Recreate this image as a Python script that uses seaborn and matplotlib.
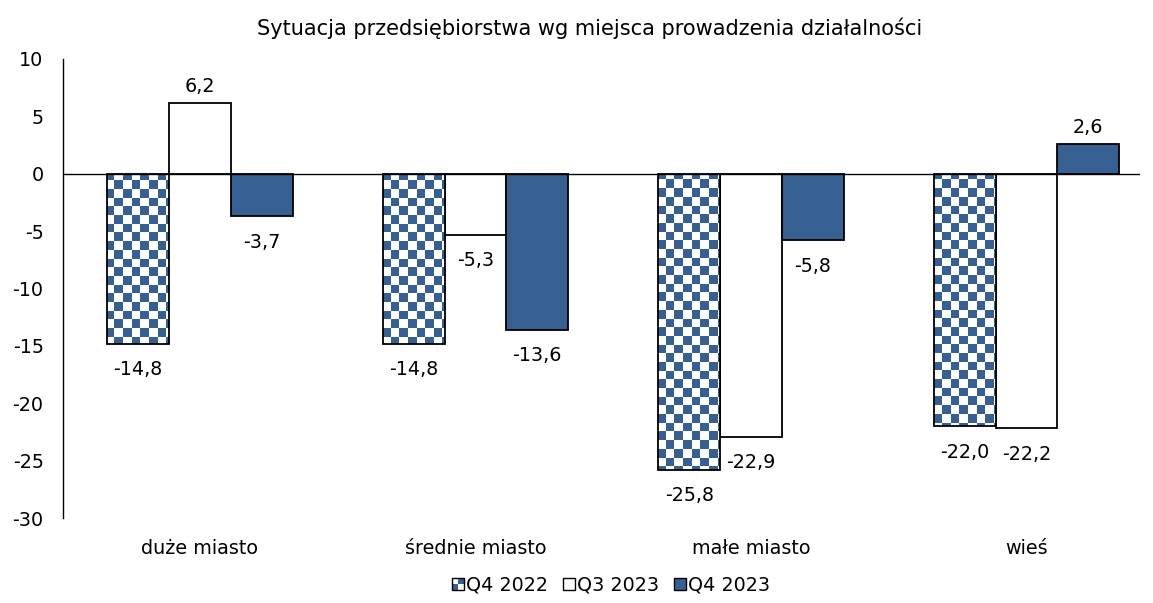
import numpy as np
import pandas as pd
import matplotlib
matplotlib.use("Agg")
import matplotlib.pyplot as plt
import seaborn as sns
from matplotlib.patches import Rectangle
from matplotlib.legend_handler import HandlerBase
from matplotlib.colors import ListedColormap

categories = ["duże miasto", "średnie miasto", "małe miasto", "wieś"]
series = ["Q4 2022", "Q3 2023", "Q4 2023"]
q4_2022 = [-14.8, -14.8, -25.8, -22.0]
q3_2023 = [6.2, -5.3, -22.9, -22.2]
q4_2023 = [-3.7, -13.6, -5.8, 2.6]
yticks = [10, 5, 0, -5, -10, -15, -20, -25, -30]
title = "Sytuacja przedsiębiorstwa wg miejsca prowadzenia działalności"

BLUE = "#376092"
FS = 13.8

sns.set_theme(style="white")
plt.rcParams["font.family"] = ["DejaVu Sans"]
plt.rcParams["text.color"] = "black"

df = pd.DataFrame({
    "cat": categories * 3,
    "series": [s for s in series for _ in categories],
    "value": q4_2022 + q3_2023 + q4_2023,
})

fig = plt.figure(figsize=(11.53, 6.03), dpi=100)
ax = fig.add_axes([63 / 1153, 1 - 518 / 603, (1140 - 63) / 1153, (518 - 59) / 603])

sns.barplot(data=df, x="cat", y="value", hue="series", hue_order=series,
            palette=["white", "white", BLUE], saturation=1, width=0.672, ax=ax,
            edgecolor="black", linewidth=1.3, legend=False, zorder=3)

ax.set_ylim(-30, 10)
ax.set_xlim(-0.497, 3.412)
ax.set_yticks(yticks)
ax.set_yticklabels([str(v) for v in yticks])
ax.tick_params(axis="y", length=0, pad=14, labelsize=FS, colors="black")
ax.tick_params(axis="x", length=0, pad=15, labelsize=FS, colors="black")
ax.set_xlabel("")
ax.set_ylabel("")
for s in ["top", "right", "bottom"]:
    ax.spines[s].set_visible(False)
ax.spines["left"].set_color("black")
ax.spines["left"].set_linewidth(1.0)
ax.axhline(0, color="black", linewidth=1.0, zorder=4)
ax.grid(False)

# checkerboard fill for first series
bbox = ax.get_window_extent()
cell = 8.6
nx = int(round(bbox.width / cell))
ny = int(round(bbox.height / cell))
board = (np.add.outer(np.arange(ny), np.arange(nx)) % 2).astype(float)
cmap = ListedColormap([BLUE, "white"])
for bar in ax.containers[0]:
    im = ax.imshow(board, cmap=cmap, extent=(*ax.get_xlim(), *ax.get_ylim()),
                   aspect="auto", interpolation="nearest", zorder=3.5, origin="upper")
    im.set_clip_path(bar)
    bar.set_zorder(3.6)
    bar.set_facecolor("none")
ax.set_xlim(-0.497, 3.412)
ax.set_ylim(-30, 10)

# labels
for cont in ax.containers:
    for bar in cont:
        v = bar.get_height()
        x = bar.get_x() + bar.get_width() / 2
        txt = f"{v:.1f}".replace(".", ",")
        if v >= 0:
            ax.annotate(txt, (x, v), xytext=(0, 5), textcoords="offset points",
                        ha="center", va="bottom", fontsize=FS, color="black")
        else:
            ax.annotate(txt, (x, v), xytext=(0, -12), textcoords="offset points",
                        ha="center", va="top", fontsize=FS, color="black")

fig.text(0.511, 1 - 28 / 603, title, ha="center", va="center", fontsize=15, color="black")


class CheckerHandler(HandlerBase):
    def create_artists(self, legend, orig_handle, xdescent, ydescent, width, height, fontsize, trans):
        s = height
        x0 = -xdescent + (width - s) / 2
        y0 = -ydescent
        arts = [Rectangle((x0, y0), s, s, facecolor="white", edgecolor="none", transform=trans)]
        h = s / 2
        arts.append(Rectangle((x0, y0), h, h, facecolor=BLUE, edgecolor="none", transform=trans))
        arts.append(Rectangle((x0 + h, y0 + h), h, h, facecolor=BLUE, edgecolor="none", transform=trans))
        arts.append(Rectangle((x0, y0), s, s, facecolor="none", edgecolor="black", linewidth=1.0, transform=trans))
        return arts


class SquareHandler(HandlerBase):
    def create_artists(self, legend, orig_handle, xdescent, ydescent, width, height, fontsize, trans):
        s = height
        x0 = -xdescent + (width - s) / 2
        y0 = -ydescent
        return [Rectangle((x0, y0), s, s, facecolor=orig_handle.get_facecolor(),
                          edgecolor="black", linewidth=1.0, transform=trans)]


h1 = Rectangle((0, 0), 1, 1, facecolor="white")
h2 = Rectangle((0, 0), 1, 1, facecolor="white")
h3 = Rectangle((0, 0), 1, 1, facecolor=BLUE)
leg = fig.legend([h1, h2, h3], series, loc="center", bbox_to_anchor=(0.53, 1 - 585 / 603),
                 ncol=3, frameon=False, fontsize=FS, handlelength=0.6, handleheight=0.6,
                 handletextpad=0.1, columnspacing=0.8, labelcolor="black",
                 handler_map={h1: CheckerHandler(), h2: SquareHandler(), h3: SquareHandler()})

fig.savefig("out.png", dpi=100)
